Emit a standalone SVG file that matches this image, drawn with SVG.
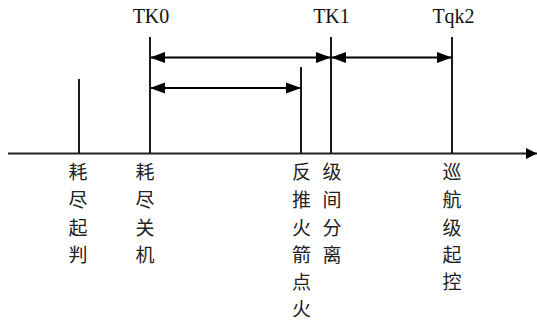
<svg xmlns="http://www.w3.org/2000/svg" width="537" height="320" viewBox="0 0 537 320">
<defs>
<style>
.ln{stroke:#000;stroke-width:1.8;fill:none}
.ax{stroke:#222;stroke-width:2.2;fill:none}
.lab{font-family:"Liberation Serif","Times New Roman",serif;font-size:20px;fill:#111;text-anchor:middle}
.cj{font-family:"Noto Sans CJK SC","Noto Sans CJK JP",sans-serif;font-size:19px;fill:#222;text-anchor:middle}
</style>
<marker id="ae" markerUnits="userSpaceOnUse" markerWidth="16" markerHeight="12" refX="15" refY="5.5" orient="auto-start-reverse" viewBox="0 0 16 11">
<path d="M0,0 L15,5.5 L0,11 Z" fill="#000"/>
</marker>
<marker id="ax" markerUnits="userSpaceOnUse" markerWidth="12" markerHeight="12" refX="11" refY="5.5" orient="auto" viewBox="0 0 12 11">
<path d="M0,0 L11,5.5 L0,11 Z" fill="#000"/>
</marker>
</defs>
<rect width="537" height="320" fill="#fff"/>
<g id="connectors">
<line class="ax" x1="8" y1="153.5" x2="537" y2="153.5" marker-end="url(#ax)"/>
<line class="ln" x1="150" y1="57.5" x2="331" y2="57.5" marker-start="url(#ae)" marker-end="url(#ae)"/>
<line class="ln" x1="331" y1="57.5" x2="452" y2="57.5" marker-start="url(#ae)" marker-end="url(#ae)"/>
<line class="ln" x1="150" y1="88" x2="301" y2="88" marker-start="url(#ae)" marker-end="url(#ae)"/>
</g>
<g id="n-haojinqipan">
<line class="ln" x1="79" y1="79" x2="79" y2="153"/>
<text class="cj"><tspan x="78" y="179">耗</tspan><tspan x="78" y="207">尽</tspan><tspan x="78" y="235">起</tspan><tspan x="78" y="262">判</tspan></text>
</g>
<g id="n-tk0">
<line class="ln" x1="150" y1="37" x2="150" y2="153"/>
<text class="lab" x="151" y="23">TK0</text>
<text class="cj"><tspan x="145" y="179">耗</tspan><tspan x="145" y="207">尽</tspan><tspan x="145" y="235">关</tspan><tspan x="145" y="262">机</tspan></text>
</g>
<g id="n-fantui">
<line class="ln" x1="301" y1="67" x2="301" y2="153"/>
<text class="cj"><tspan x="301.5" y="179">反</tspan><tspan x="301.5" y="207">推</tspan><tspan x="301.5" y="235">火</tspan><tspan x="301.5" y="262">箭</tspan><tspan x="301.5" y="289">点</tspan><tspan x="301.5" y="316">火</tspan></text>
</g>
<g id="n-tk1">
<line class="ln" x1="331" y1="37" x2="331" y2="153"/>
<text class="lab" x="331.5" y="23">TK1</text>
<text class="cj"><tspan x="332" y="179">级</tspan><tspan x="332" y="207">间</tspan><tspan x="332" y="235">分</tspan><tspan x="332" y="262">离</tspan></text>
</g>
<g id="n-tqk2">
<line class="ln" x1="452" y1="37" x2="452" y2="153"/>
<text class="lab" x="453.5" y="23">Tqk2</text>
<text class="cj"><tspan x="452" y="179">巡</tspan><tspan x="452" y="207">航</tspan><tspan x="452" y="235">级</tspan><tspan x="452" y="262">起</tspan><tspan x="452" y="289">控</tspan></text>
</g>
</svg>
